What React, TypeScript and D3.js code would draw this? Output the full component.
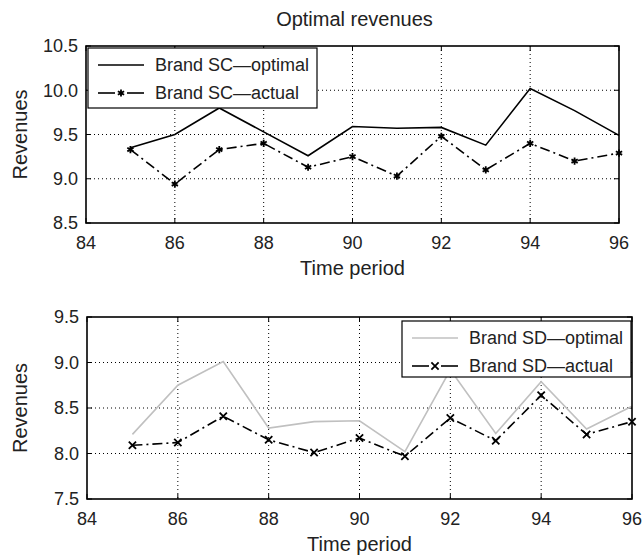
import React from "react";
import * as d3 from "d3";

// time periods on the x axis
const periods = [85, 86, 87, 88, 89, 90, 91, 92, 93, 94, 95, 96];

// brand SC (top panel)
const scOptimal = [9.35, 9.5, 9.8, 9.53, 9.26, 9.59, 9.57, 9.58, 9.38, 10.02, 9.77, 9.49];
const scActual = [9.33, 8.94, 9.33, 9.4, 9.13, 9.25, 9.03, 9.48, 9.1, 9.4, 9.2, 9.29];

// brand SD (bottom panel)
const sdOptimal = [8.21, 8.75, 9.01, 8.28, 8.35, 8.36, 8.02, 8.92, 8.22, 8.79, 8.27, 8.52];
const sdActual = [8.09, 8.12, 8.41, 8.15, 8.01, 8.17, 7.97, 8.39, 8.14, 8.64, 8.21, 8.35];

const xTicks = [84, 86, 88, 90, 92, 94, 96];
const yTicksTop = [8.5, 9.0, 9.5, 10.0, 10.5];
const yTicksBottom = [7.5, 8.0, 8.5, 9.0, 9.5];

const FONT = "'Liberation Sans', Arial, Helvetica, sans-serif";

type Series = {
  name: string;
  values: number[];
  color: string;
  dash?: string;
  marker?: d3.SymbolType;
};

function Panel(props: {
  box: { left: number; right: number; top: number; bottom: number };
  yDomain: [number, number];
  yTicks: number[];
  series: Series[];
  legend: { x: number; y: number; w: number; h: number };
}) {
  const { box, yDomain, yTicks, series, legend } = props;
  const x = d3.scaleLinear().domain([84, 96]).range([box.left, box.right]);
  const y = d3.scaleLinear().domain(yDomain).range([box.bottom, box.top]);
  const line = d3
    .line<number>()
    .x((d, i) => x(periods[i]))
    .y((d) => y(d));
  const tick = 5;

  return (
    <g>
      {/* grid */}
      {xTicks.slice(1, -1).map((t) => (
        <line key={"gx" + t} x1={x(t)} x2={x(t)} y1={box.top} y2={box.bottom}
          stroke="#000" strokeWidth={1} strokeDasharray="1,3" />
      ))}
      {yTicks.slice(1, -1).map((t) => (
        <line key={"gy" + t} x1={box.left} x2={box.right} y1={y(t)} y2={y(t)}
          stroke="#000" strokeWidth={1} strokeDasharray="1,3" />
      ))}
      {/* inward ticks */}
      {xTicks.map((t) => (
        <g key={"tx" + t}>
          <line x1={x(t)} x2={x(t)} y1={box.bottom} y2={box.bottom - tick} stroke="#000" />
          <line x1={x(t)} x2={x(t)} y1={box.top} y2={box.top + tick} stroke="#000" />
          <text x={x(t)} y={box.bottom + 26} textAnchor="middle" fontSize={18} fill="#222">
            {t}
          </text>
        </g>
      ))}
      {yTicks.map((t) => (
        <g key={"ty" + t}>
          <line x1={box.left} x2={box.left + tick} y1={y(t)} y2={y(t)} stroke="#000" />
          <line x1={box.right} x2={box.right - tick} y1={y(t)} y2={y(t)} stroke="#000" />
          <text x={box.left - 8} y={y(t)} dy="0.35em" textAnchor="end" fontSize={18} fill="#222">
            {t.toFixed(1)}
          </text>
        </g>
      ))}
      {/* series */}
      {series.map((s) => (
        <g key={s.name}>
          <path d={line(s.values) || ""} fill="none" stroke={s.color} strokeWidth={1.6}
            strokeDasharray={s.dash} />
          {s.marker &&
            s.values.map((v, i) => (
              <path key={i} transform={`translate(${x(periods[i])},${y(v)})`}
                d={d3.symbol(s.marker, 36)() || ""} fill="none" stroke={s.color} strokeWidth={1.8} />
            ))}
        </g>
      ))}
      {/* frame */}
      <rect x={box.left} y={box.top} width={box.right - box.left} height={box.bottom - box.top}
        fill="none" stroke="#000" strokeWidth={1.6} />
      {/* legend */}
      <rect x={legend.x} y={legend.y} width={legend.w} height={legend.h} fill="#fff"
        stroke="#000" strokeWidth={1.2} />
      {series.map((s, i) => {
        const ly = legend.y + 17 + i * 28;
        const lx = legend.x + 10;
        return (
          <g key={"lg" + s.name}>
            {s.marker ? (
              <>
                <line x1={lx} x2={lx + 17} y1={ly} y2={ly} stroke={s.color} strokeWidth={1.6} />
                <line x1={lx + 29} x2={lx + 46} y1={ly} y2={ly} stroke={s.color} strokeWidth={1.6} />
                <path transform={`translate(${lx + 23},${ly})`}
                  d={d3.symbol(s.marker, 36)() || ""} fill="none" stroke={s.color} strokeWidth={1.8} />
              </>
            ) : (
              <line x1={lx} x2={lx + 46} y1={ly} y2={ly} stroke={s.color} strokeWidth={1.6} />
            )}
            <text x={legend.x + 67} y={ly} dy="0.35em" fontSize={18} fill="#222">
              {s.name}
            </text>
          </g>
        );
      })}
    </g>
  );
}

export default function App() {
  const top = { left: 86, right: 619, top: 46, bottom: 223 };
  const bottom = { left: 87, right: 632, top: 317, bottom: 499 };
  return (
    <svg width={642} height={557}
      style={{ position: "absolute", left: 0, top: 0, background: "#fff" }}
      fontFamily={FONT}>
      <text x={(top.left + top.right) / 2 + 2} y={26} textAnchor="middle" fontSize={20} fill="#222">
        Optimal revenues
      </text>
      <Panel
        box={top}
        yDomain={[8.5, 10.5]}
        yTicks={yTicksTop}
        legend={{ x: 88, y: 48, w: 229, h: 60 }}
        series={[
          { name: "Brand SC\u2014optimal", values: scOptimal, color: "#000" },
          { name: "Brand SC\u2014actual", values: scActual, color: "#000", dash: "10,4,2,4", marker: d3.symbolAsterisk },
        ]}
      />
      <text x={(top.left + top.right) / 2} y={275} textAnchor="middle" fontSize={20} fill="#222">
        Time period
      </text>
      <text transform={`translate(27,${(top.top + top.bottom) / 2}) rotate(-90)`} textAnchor="middle"
        fontSize={20} fill="#222">
        Revenues
      </text>

      <Panel
        box={bottom}
        yDomain={[7.5, 9.5]}
        yTicks={yTicksBottom}
        legend={{ x: 402, y: 321, w: 229, h: 56 }}
        series={[
          { name: "Brand SD\u2014optimal", values: sdOptimal, color: "#c0c0c0" },
          { name: "Brand SD\u2014actual", values: sdActual, color: "#000", dash: "10,4,2,4", marker: d3.symbolTimes },
        ]}
      />
      <text x={(bottom.left + bottom.right) / 2} y={551} textAnchor="middle" fontSize={20} fill="#222">
        Time period
      </text>
      <text transform={`translate(27,${(bottom.top + bottom.bottom) / 2}) rotate(-90)`} textAnchor="middle"
        fontSize={20} fill="#222">
        Revenues
      </text>
    </svg>
  );
}
